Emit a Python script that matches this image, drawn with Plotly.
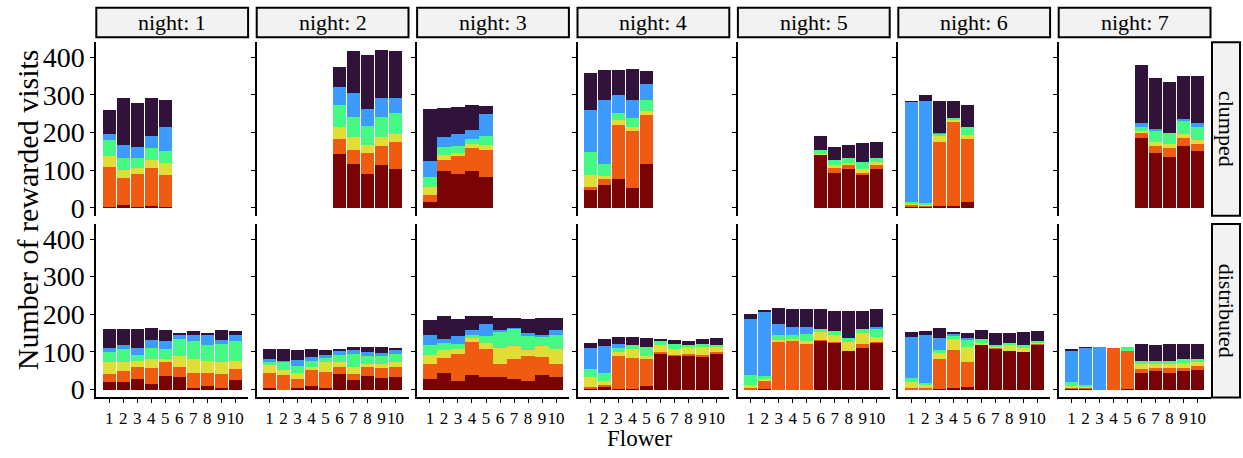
import plotly.graph_objects as go

# ---------------------------------------------------------------- data
flowers = list(range(1, 11))
nights = [1, 2, 3, 4, 5, 6, 7]
conditions = ["clumped", "distributed"]
# individuals, listed in stacking order (bottom -> top)
individuals = ["A", "B", "C", "D", "E", "F"]
colours = ["#7A0403", "#F05B12", "#E1DD37", "#46F884", "#3E9BFE", "#30123B"]
N = None

# each panel: one row of 10 flower counts per individual
clumped_n1 = [
    [2, 7, 2, 5, 2, N, N, N, N, N],
    [107, 73, 89, 102, 86, N, N, N, N, N],
    [29, 21, 15, 20, 32, N, N, N, N, N],
    [41, 32, 27, 32, 31, N, N, N, N, N],
    [18, 34, 28, 31, 64, N, N, N, N, N],
    [63, 124, 117, 101, 71, N, N, N, N, N],
]
clumped_n2 = [
    [N, N, N, N, N, 142, 116, 90, 114, 103],
    [N, N, N, N, N, 42, 37, 55, 49, 71],
    [N, N, N, N, N, 31, 34, 21, 26, 21],
    [N, N, N, N, N, 58, 54, 52, 52, 57],
    [N, N, N, N, N, 47, 63, 44, 50, 39],
    [N, N, N, N, N, 55, 112, 144, 128, 125],
]
clumped_n3 = [
    [14, 99, 90, 99, 82, N, N, N, N, N],
    [19, 27, 47, 60, 71, N, N, N, N, N],
    [23, 15, 8, 11, 15, N, N, N, N, N],
    [26, 21, 18, 13, 24, N, N, N, N, N],
    [42, 26, 34, 24, 57, N, N, N, N, N],
    [138, 76, 71, 65, 21, N, N, N, N, N],
]
clumped_n4 = [
    [46, 61, 77, 53, 116, N, N, N, N, N],
    [8, 16, 144, 151, 131, N, N, N, N, N],
    [33, 8, 13, 10, 10, N, N, N, N, N],
    [60, 31, 18, 24, 29, N, N, N, N, N],
    [113, 170, 49, 49, 42, N, N, N, N, N],
    [99, 81, 66, 81, 36, N, N, N, N, N],
]
clumped_n5 = [
    [N, N, N, N, N, 140, 93, 103, 87, 103],
    [N, N, N, N, N, 0, 13, 11, 6, 11],
    [N, N, N, N, N, 2, 8, 5, 10, 7],
    [N, N, N, N, N, 11, 13, 13, 18, 11],
    [N, N, N, N, N, 0, 0, 0, 0, 0],
    [N, N, N, N, N, 39, 34, 36, 50, 44],
]
clumped_n6 = [
    [4, 4, 6, 4, 16, N, N, N, N, N],
    [3, 2, 169, 224, 167, N, N, N, N, N],
    [3, 3, 16, 6, 11, N, N, N, N, N],
    [4, 3, 5, 5, 20, N, N, N, N, N],
    [267, 271, 3, 0, 0, N, N, N, N, N],
    [2, 18, 86, 44, 60, N, N, N, N, N],
]
clumped_n7 = [
    [N, N, N, N, N, 185, 145, 135, 165, 150],
    [N, N, N, N, N, 15, 20, 25, 20, 20],
    [N, N, N, N, N, 5, 10, 10, 10, 10],
    [N, N, N, N, N, 10, 30, 30, 35, 35],
    [N, N, N, N, N, 10, 5, 0, 5, 10],
    [N, N, N, N, N, 155, 135, 135, 115, 125],
]

distributed_n1 = [
    [20, 20, 27, 14, 35, 33, 4, 9, 4, 25],
    [21, 28, 34, 42, 37, 28, 39, 34, 36, 29],
    [32, 26, 16, 26, 10, 29, 37, 34, 34, 23],
    [27, 34, 16, 29, 26, 44, 49, 42, 47, 52],
    [11, 11, 18, 21, 21, 11, 16, 26, 11, 16],
    [50, 42, 50, 31, 29, 5, 10, 5, 26, 10],
]
distributed_n2 = [
    [4, 0, 3, 9, 4, 40, 26, 35, 30, 33],
    [39, 38, 26, 42, 42, 21, 16, 24, 26, 26],
    [21, 15, 16, 10, 26, 13, 18, 8, 11, 13],
    [10, 21, 18, 16, 13, 19, 34, 23, 23, 23],
    [8, 3, 16, 10, 8, 10, 11, 10, 8, 11],
    [26, 31, 26, 21, 13, 3, 8, 14, 16, 5],
]
distributed_n3 = [
    [27, 43, 22, 38, 33, 33, 27, 22, 38, 33],
    [40, 42, 73, 89, 75, 36, 55, 68, 49, 36],
    [26, 21, 13, 10, 16, 42, 34, 16, 29, 39],
    [26, 18, 13, 8, 18, 42, 45, 36, 26, 37],
    [26, 10, 21, 13, 32, 5, 2, 8, 3, 13],
    [39, 61, 45, 37, 21, 31, 26, 37, 44, 31],
]
distributed_n4 = [
    [4, 9, 1, 1, 9, 95, 90, 90, 87, 95],
    [3, 3, 89, 84, 71, 5, 3, 5, 6, 5],
    [26, 10, 10, 23, 10, 19, 15, 19, 21, 14],
    [21, 21, 11, 11, 24, 10, 13, 5, 7, 5],
    [57, 73, 10, 0, 0, 0, 0, 0, 0, 0],
    [13, 18, 19, 21, 23, 5, 11, 10, 13, 18],
]
distributed_n5 = [
    [1, 1, 0, 0, 0, 129, 124, 103, 111, 124],
    [3, 24, 127, 129, 121, 3, 3, 0, 10, 3],
    [8, 5, 5, 5, 8, 21, 18, 24, 29, 13],
    [26, 5, 13, 11, 18, 8, 10, 10, 11, 23],
    [149, 173, 29, 21, 19, 0, 0, 0, 0, 3],
    [15, 2, 44, 49, 47, 54, 53, 71, 47, 47],
]
distributed_n6 = [
    [1, 1, 1, 4, 6, 119, 108, 103, 99, 119],
    [3, 3, 79, 102, 68, 0, 3, 0, 0, 2],
    [16, 8, 18, 28, 40, 5, 3, 16, 14, 3],
    [10, 5, 8, 8, 20, 10, 5, 5, 5, 5],
    [110, 128, 31, 6, 3, 0, 0, 0, 0, 0],
    [13, 10, 26, 5, 13, 24, 31, 26, 34, 26],
]
distributed_n7 = [
    [3, 2, 0, 0, 2, 45, 50, 45, 48, 52],
    [2, 3, 0, 110, 100, 10, 8, 12, 10, 10],
    [5, 3, 0, 0, 0, 12, 10, 12, 12, 12],
    [10, 3, 0, 0, 10, 8, 8, 8, 10, 8],
    [85, 100, 114, 0, 0, 0, 0, 0, 0, 0],
    [2, 2, 0, 0, 0, 45, 43, 45, 40, 40],
]

panels = {
    "clumped": [clumped_n1, clumped_n2, clumped_n3, clumped_n4,
                clumped_n5, clumped_n6, clumped_n7],
    "distributed": [distributed_n1, distributed_n2, distributed_n3, distributed_n4,
                    distributed_n5, distributed_n6, distributed_n7],
}
y_ticks = [0, 100, 200, 300, 400]

# ---------------------------------------------------------------- layout geometry (pixels)
W, H = 1243, 458
FONT = "Liberation Serif"
col_left0, col_pitch, col_width = 96.3, 160.4, 151.8
row_tops = [43.0, 228.0]
row_height = 176.5
strip_top, strip_bottom = 8.0, 38.0
rstrip_left, rstrip_right = 1212.0, 1240.0


def px_x(p):
    return p / W


def px_y(p):
    return 1 - p / H


fig = go.Figure()
layout = {}
shapes = []
annotations = []

for r, cond in enumerate(conditions):
    for c, night in enumerate(nights):
        idx = r * len(nights) + c + 1
        xname = "x" if idx == 1 else f"x{idx}"
        yname = "y" if idx == 1 else f"y{idx}"
        data = panels[cond][c]
        for k, ind in enumerate(individuals):
            fig.add_trace(go.Bar(
                x=flowers, y=data[k], name=ind,
                marker=dict(color=colours[k], line=dict(width=0)),
                xaxis=xname, yaxis=yname, showlegend=False,
            ))
        left = col_left0 + c * col_pitch
        top = row_tops[r]
        bottom_row = r == len(conditions) - 1
        layout["xaxis" if idx == 1 else f"xaxis{idx}"] = dict(
            domain=[px_x(left), px_x(left + col_width)],
            anchor=yname, range=[0.08, 10.92],
            showline=bottom_row, linecolor="black", linewidth=2,
            ticks="outside" if bottom_row else "", ticklen=4, tickcolor="black",
            tickvals=flowers, ticktext=[str(f) for f in flowers],
            tickangle=0,
            showticklabels=bottom_row,
            tickfont=dict(family=FONT, size=17, color="black"),
            showgrid=False, zeroline=False, fixedrange=True,
        )
        layout["yaxis" if idx == 1 else f"yaxis{idx}"] = dict(
            domain=[px_y(top + row_height), px_y(top)],
            anchor=xname, range=[-21, 440],
            showline=True, linecolor="black", linewidth=2,
            ticks="outside", ticklen=4, tickcolor="black",
            tickvals=y_ticks, showticklabels=(c == 0),
            tickfont=dict(family=FONT, size=28, color="black"),
            showgrid=False, zeroline=False, fixedrange=True,
        )
        if r == 0:
            shapes.append(dict(
                type="rect", xref="paper", yref="paper",
                x0=px_x(left), x1=px_x(left + col_width),
                y0=px_y(strip_bottom), y1=px_y(strip_top),
                fillcolor="#F2F2F2", line=dict(color="black", width=2),
            ))
            annotations.append(dict(
                text=f"night: {night}", xref="paper", yref="paper",
                x=px_x(left + col_width / 2), y=px_y((strip_top + strip_bottom) / 2),
                showarrow=False, xanchor="center", yanchor="middle",
                font=dict(family=FONT, size=22, color="black"),
            ))
    # condition strip on the right
    top = row_tops[r]
    shapes.append(dict(
        type="rect", xref="paper", yref="paper",
        x0=px_x(rstrip_left), x1=px_x(rstrip_right),
        y0=px_y(top + row_height), y1=px_y(top),
        fillcolor="#F2F2F2", line=dict(color="black", width=2),
    ))
    annotations.append(dict(
        text=cond, xref="paper", yref="paper",
        x=px_x((rstrip_left + rstrip_right) / 2), y=px_y(top + row_height / 2),
        showarrow=False, xanchor="center", yanchor="middle", textangle=90,
        font=dict(family=FONT, size=22, color="black"),
    ))

# axis titles
annotations.append(dict(
    text="Number of rewarded visits", xref="paper", yref="paper",
    x=px_x(27), y=px_y(214), showarrow=False, textangle=-90,
    xanchor="center", yanchor="middle",
    font=dict(family=FONT, size=30, color="black"),
))
annotations.append(dict(
    text="Flower", xref="paper", yref="paper",
    x=px_x(640), y=px_y(446), showarrow=False,
    xanchor="center", yanchor="middle",
    font=dict(family=FONT, size=23, color="black"),
))

fig.update_layout(
    width=W, height=H,
    margin=dict(l=0, r=0, t=0, b=0),
    paper_bgcolor="white", plot_bgcolor="white",
    barmode="stack", bargap=0.05,
    shapes=shapes, annotations=annotations,
    **layout,
)

fig.write_html("out.html")
